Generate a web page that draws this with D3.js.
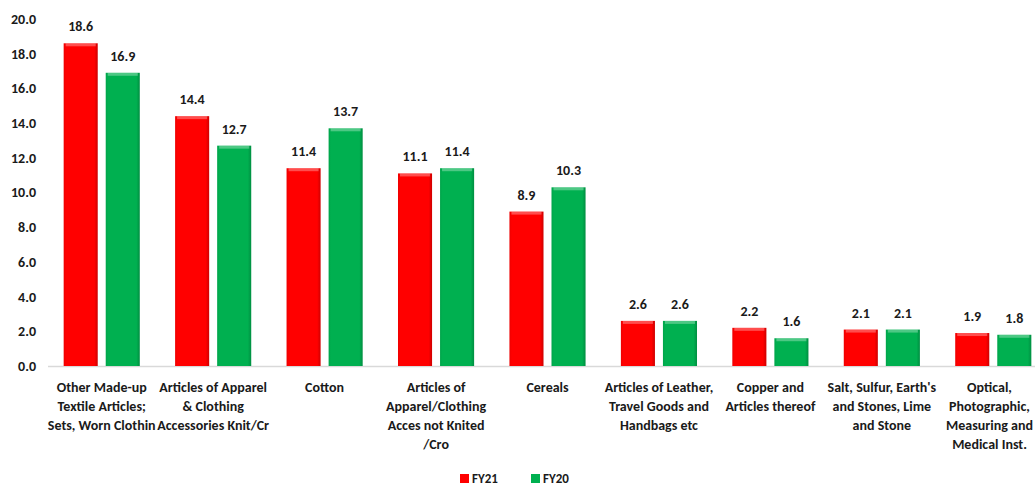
<!DOCTYPE html>
<html>
<head>
<meta charset="utf-8">
<script src="https://cdn.jsdelivr.net/npm/d3@7"></script>
<style>
  body { margin: 0; background: #fff; }
  svg text { font-family: Carlito, "Liberation Sans Narrow", "Liberation Sans", sans-serif; font-weight: bold; fill: #1a1a1a; }
</style>
</head>
<body>
<svg id="chart" width="1035" height="485"></svg>
<script>
var categories = [
  ["Other Made-up", "Textile Articles;", "Sets, Worn Clothin"],
  ["Articles of Apparel", "& Clothing", "Accessories Knit/Cr"],
  ["Cotton"],
  ["Articles of", "Apparel/Clothing", "Acces not Knited", "/Cro"],
  ["Cereals"],
  ["Articles of Leather,", "Travel Goods and", "Handbags etc"],
  ["Copper and", "Articles thereof"],
  ["Salt, Sulfur, Earth's", "and Stones, Lime", "and Stone"],
  ["Optical,", "Photographic,", "Measuring and", "Medical Inst."]
];
var fy21 = [18.6, 14.4, 11.4, 11.1, 8.9, 2.6, 2.2, 2.1, 1.9];
var fy20 = [16.9, 12.7, 13.7, 11.4, 10.3, 2.6, 1.6, 2.1, 1.8];
var seriesNames = ["FY21", "FY20"];
var seriesColors = ["#ff0000", "#00b050"];
var yTicks = [0, 2, 4, 6, 8, 10, 12, 14, 16, 18, 20];

var svg = d3.select("#chart");

var x = d3.scaleBand().domain(d3.range(categories.length)).range([46, 1049]).paddingInner(0).paddingOuter(0);
var y = d3.scaleLinear().domain([0, 20]).range([366, 19]);
var xs = d3.scaleBand().domain([0, 1]).range([0, x.bandwidth()]).paddingInner(0.19).paddingOuter(0.42);

// gradients for a bevelled look
var defs = svg.append("defs");
seriesColors.forEach(function(c, i) {
  var g = defs.append("linearGradient").attr("id", "grad" + i)
    .attr("x1", "0").attr("x2", "1").attr("y1", "0").attr("y2", "0");
  var dark = d3.color(c).darker(0.6);
  g.append("stop").attr("offset", "0%").attr("stop-color", d3.color(c).darker(0.2));
  g.append("stop").attr("offset", "7%").attr("stop-color", c);
  g.append("stop").attr("offset", "90%").attr("stop-color", c);
  g.append("stop").attr("offset", "100%").attr("stop-color", dark);
});

// y axis labels
svg.append("g").selectAll("text").data(yTicks).join("text")
  .attr("x", 36).attr("y", function(d) { return y(d); })
  .attr("dy", "0.35em").attr("text-anchor", "end")
  .style("font-size", "14px")
  .text(function(d) { return d.toFixed(1); });

// baseline
svg.append("line").attr("x1", 48).attr("x2", 1035)
  .attr("y1", y(0) + 0.5).attr("y2", y(0) + 0.5)
  .attr("stroke", "#d9d9d9").attr("stroke-width", 1.5);

var series = [fy21, fy20];
series.forEach(function(vals, s) {
  var g = svg.append("g");
  var bars = g.selectAll("g").data(vals).join("g");
  bars.append("rect")
    .attr("x", function(d, i) { return x(i) + xs(s); })
    .attr("y", function(d) { return y(d); })
    .attr("width", xs.bandwidth())
    .attr("height", function(d) { return y(0) - y(d); })
    .attr("fill", "url(#grad" + s + ")");
  // top bevel highlight
  bars.append("rect")
    .attr("x", function(d, i) { return x(i) + xs(s) + 2; })
    .attr("y", function(d) { return y(d); })
    .attr("width", xs.bandwidth() - 4)
    .attr("height", 3)
    .attr("fill", "#ffffff").attr("opacity", 0.3);
  bars.append("text")
    .attr("x", function(d, i) { return x(i) + xs(s) + xs.bandwidth() / 2; })
    .attr("y", function(d) { return y(d) - 12; })
    .attr("text-anchor", "middle")
    .style("font-size", "14px")
    .text(function(d) { return d.toFixed(1); });
});

// category labels
var cat = svg.append("g").selectAll("text").data(categories).join("text")
  .attr("text-anchor", "middle")
  .style("font-size", "14px")
  .attr("transform", function(d, i) { return "translate(" + (x(i) + x.bandwidth() / 2) + ",392)"; });
cat.selectAll("tspan").data(function(d) { return d; }).join("tspan")
  .attr("x", 0).attr("y", function(d, j) { return j * 19; })
  .text(function(d) { return d; });
// keep the last label inside the picture
cat.each(function(d, i) {
  var b = this.getBBox();
  var cx = x(i) + x.bandwidth() / 2;
  var right = cx + b.x + b.width;
  if (right > 1033) d3.select(this).attr("transform", "translate(" + (cx - (right - 1033)) + ",392)");
});

// legend
var legendX = [460, 531];
var lg = svg.append("g").selectAll("g").data(seriesNames).join("g")
  .attr("transform", function(d, i) { return "translate(" + legendX[i] + ",474)"; });
lg.append("rect").attr("width", 9).attr("height", 9).attr("fill", function(d, i) { return seriesColors[i]; });
lg.append("text").attr("x", 12).attr("y", 4.5).attr("dy", "0.35em")
  .style("font-size", "13px").text(function(d) { return d; });
</script>
</body>
</html>
